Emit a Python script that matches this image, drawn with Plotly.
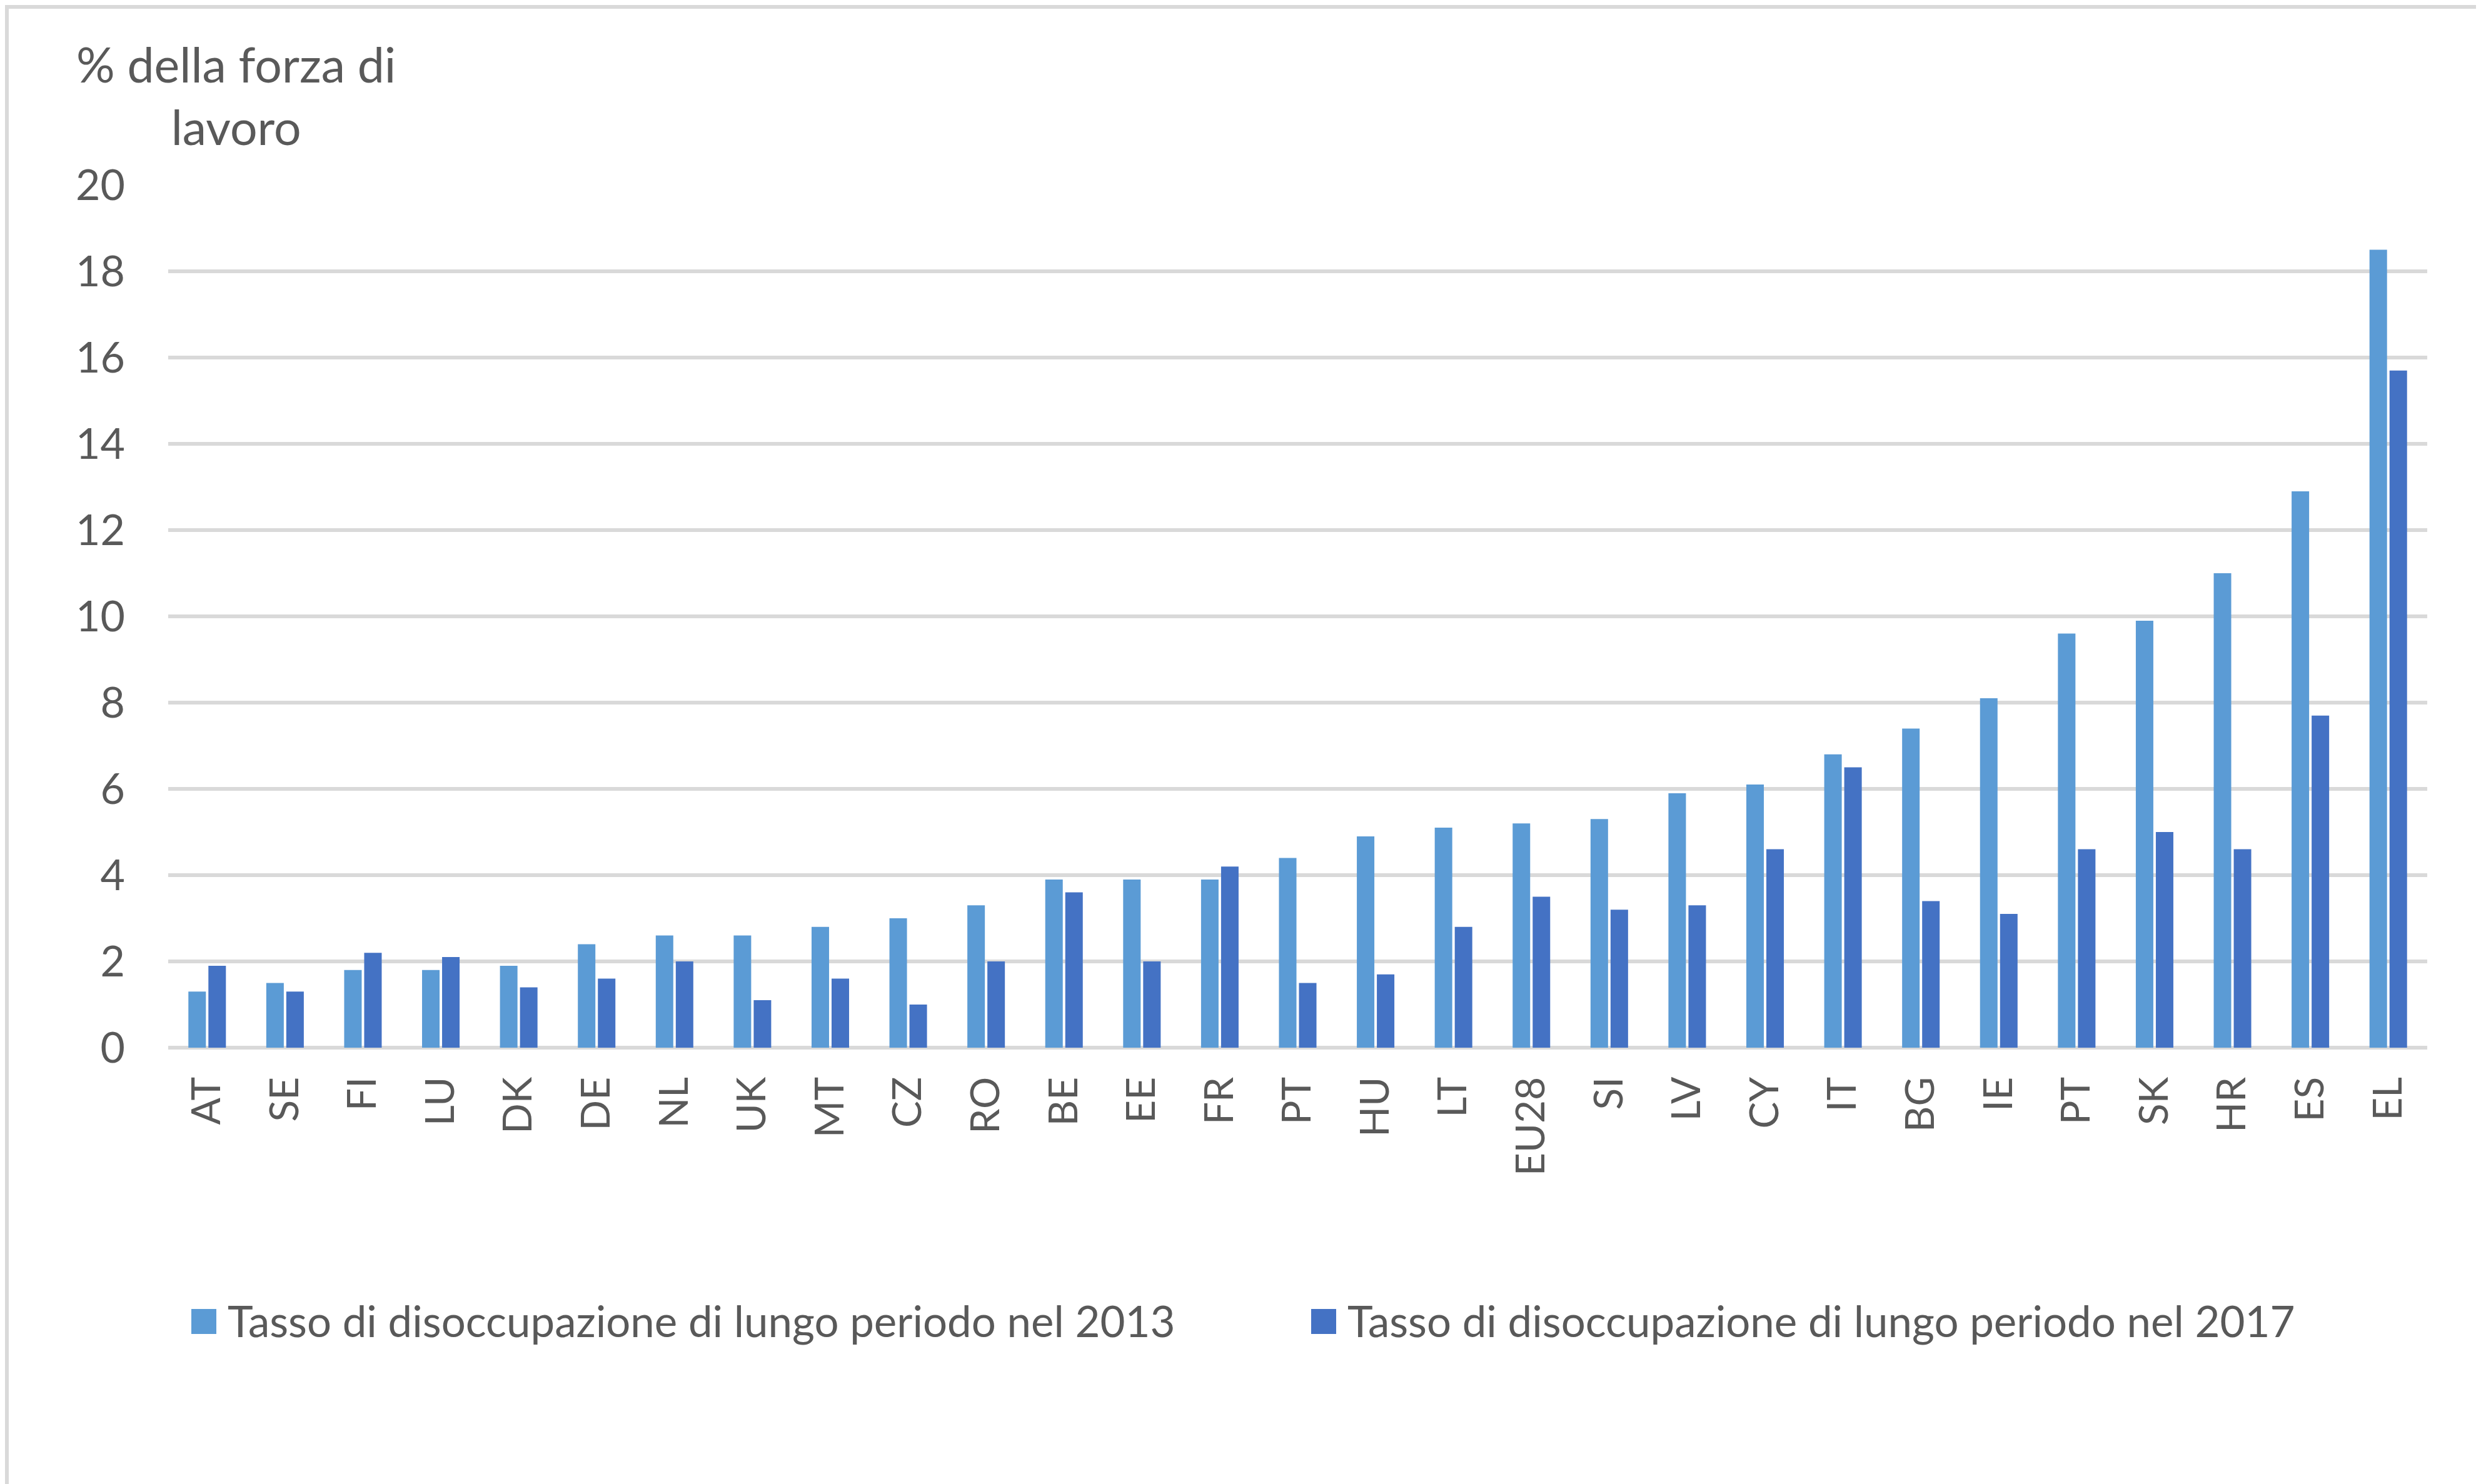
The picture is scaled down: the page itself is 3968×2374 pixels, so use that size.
import plotly.graph_objects as go

# ---- data ----
categories = ["AT", "SE", "FI", "LU", "DK", "DE", "NL", "UK", "MT", "CZ", "RO", "BE", "EE", "FR",
              "PT", "HU", "LT", "EU28", "SI", "LV", "CY", "IT", "BG", "IE", "PT", "SK", "HR", "ES", "EL"]
rate_2013 = [1.3, 1.5, 1.8, 1.8, 1.9, 2.4, 2.6, 2.6, 2.8, 3.0, 3.3, 3.9, 3.9, 3.9,
             4.4, 4.9, 5.1, 5.2, 5.3, 5.9, 6.1, 6.8, 7.4, 8.1, 9.6, 9.9, 11.0, 12.9, 18.5]
rate_2017 = [1.9, 1.3, 2.2, 2.1, 1.4, 1.6, 2.0, 1.1, 1.6, 1.0, 2.0, 3.6, 2.0, 4.2,
             1.5, 1.7, 2.8, 3.5, 3.2, 3.3, 4.6, 6.5, 3.4, 3.1, 4.6, 5.0, 4.6, 7.7, 15.7]
series_names = ["Tasso di disoccupazione di lungo periodo nel 2013",
                "Tasso di disoccupazione di lungo periodo nel 2017"]
y_ticks = [0, 2, 4, 6, 8, 10, 12, 14, 16, 18, 20]
y_title = "% della forza di<br>lavoro"

# ---- style ----
W, H = 3968, 2374
L, R, T, B = 261, 94, 288, 706
PW, PH = W - L - R, H - T - B
FONT = "Lato, 'Open Sans', sans-serif"
TXT = "#595959"
GRID = "#D9D9D9"
colors = ["#5B9BD5", "#4472C4"]

def px_x(px):
    return (px - L) / PW

def px_y(py):
    return (H - B - py) / PH

xpos = list(range(len(categories)))

fig = go.Figure()
for name, vals, col in zip(series_names, [rate_2013, rate_2017], colors):
    fig.add_trace(go.Bar(x=xpos, y=vals, name=name, marker=dict(color=col, line=dict(width=0)),
                         showlegend=False))

fig.update_layout(
    width=W, height=H,
    margin=dict(l=L, r=R, t=T, b=B, autoexpand=False),
    paper_bgcolor="white", plot_bgcolor="white",
    barmode="group", bargap=0.486, bargroupgap=0.125,
    font=dict(family=FONT, color=TXT, size=68),
)
fig.update_xaxes(
    tickmode="array", tickvals=xpos, ticktext=categories, tickangle=-90,
    range=[-0.5, len(categories) - 0.5], showgrid=False, zeroline=False,
    showline=False, ticks="", ticklabelstandoff=33,
    tickfont=dict(family=FONT, size=64, color=TXT),
)
fig.update_yaxes(
    range=[0, 20], tickmode="array", tickvals=y_ticks,
    showgrid=True, gridcolor=GRID, gridwidth=6,
    zeroline=True, zerolinecolor=GRID, zerolinewidth=6,
    showline=False, ticks="", ticklabelstandoff=68,
    tickfont=dict(family=FONT, size=68, color=TXT),
)

# axis title (centered two-line text, top-left)
fig.add_annotation(text=y_title, xref="paper", yref="paper", x=px_x(369), y=px_y(46),
                   xanchor="center", yanchor="top", align="center", showarrow=False,
                   font=dict(family=FONT, size=77, color=TXT))

# custom legend (square markers + labels)
leg_y = 2106
for name, col, mx in zip(series_names, colors, [298, 2089]):
    fig.add_shape(type="rect", xref="paper", yref="paper",
                  x0=px_x(mx), x1=px_x(mx + 40), y0=px_y(leg_y + 20), y1=px_y(leg_y - 20),
                  fillcolor=col, line=dict(width=0))
    fig.add_annotation(text=name, xref="paper", yref="paper", x=px_x(mx + 56), y=px_y(leg_y - 2),
                       xanchor="left", yanchor="middle", showarrow=False,
                       font=dict(family=FONT, size=69, color=TXT))

# outer chart border
fig.add_shape(type="rect", xref="paper", yref="paper",
              x0=px_x(3), x1=px_x(W - 3), y0=px_y(H - 3), y1=px_y(3),
              line=dict(color=GRID, width=6), fillcolor="rgba(0,0,0,0)", layer="below")

fig.write_html("out.html")
